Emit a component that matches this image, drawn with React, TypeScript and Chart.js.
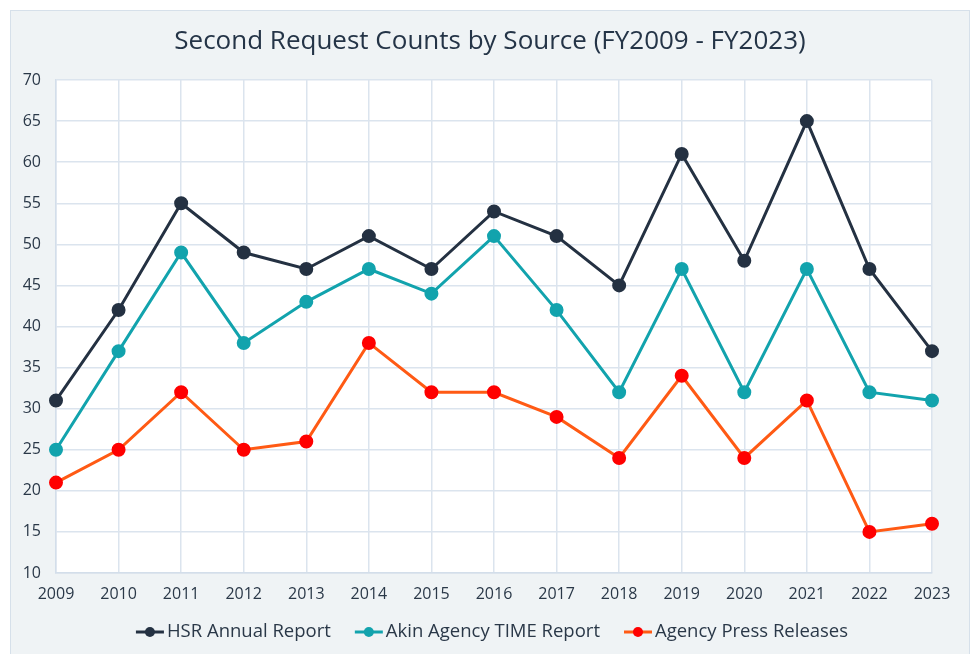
import React, { useEffect, useRef } from "react";
import { Chart, registerables } from "chart.js";

Chart.register(...registerables);

const years = ["2009","2010","2011","2012","2013","2014","2015","2016","2017","2018","2019","2020","2021","2022","2023"];
const hsrAnnual = [31,42,55,49,47,51,47,54,51,45,61,48,65,47,37];
const akinTime = [25,37,49,38,43,47,44,51,42,32,47,32,47,32,31];
const pressReleases = [21,25,32,25,26,38,32,32,29,24,34,24,31,15,16];
const seriesNames = ["HSR Annual Report", "Akin Agency TIME Report", "Agency Press Releases"];
const titleText = "Second Request Counts by Source (FY2009 - FY2023)";

const FONT = "'Open Sans', sans-serif";
const TEXT = "#2a3848";

const bgPlugin = {
  id: "plotBg",
  beforeDraw(chart: any) {
    const { ctx, chartArea } = chart;
    ctx.save();
    ctx.fillStyle = "#ffffff";
    ctx.fillRect(chartArea.left, chartArea.top, chartArea.right - chartArea.left, chartArea.bottom - chartArea.top);
    ctx.restore();
  },
  afterDraw(chart: any) {
    const { ctx } = chart;
    ctx.save();
    // title
    ctx.fillStyle = "#243447";
    ctx.font = `400 26px ${FONT}`;
    ctx.textAlign = "center";
    ctx.textBaseline = "middle";
    ctx.fillText(titleText, 490, 42);
    // legend
    ctx.font = `400 18.5px ${FONT}`;
    const lineLen = 28, gap = 3, spacing = 24;
    const widths = seriesNames.map((n) => ctx.measureText(n).width);
    const total = widths.reduce((a, b) => a + b, 0) + seriesNames.length * (lineLen + gap) + spacing * (seriesNames.length - 1);
    let x = 492 - total / 2;
    const y = 632;
    chart.data.datasets.forEach((ds: any, i: number) => {
      ctx.strokeStyle = ds.borderColor;
      ctx.lineWidth = 3;
      ctx.beginPath();
      ctx.moveTo(x, y);
      ctx.lineTo(x + lineLen, y);
      ctx.stroke();
      ctx.fillStyle = ds.pointBackgroundColor;
      ctx.beginPath();
      ctx.arc(x + lineLen / 2, y, 5, 0, Math.PI * 2);
      ctx.fill();
      ctx.fillStyle = TEXT;
      ctx.textAlign = "left";
      ctx.fillText(seriesNames[i], x + lineLen + gap, y);
      x += lineLen + gap + widths[i] + spacing;
    });
    ctx.restore();
  },
};

export default function App() {
  const ref = useRef<HTMLCanvasElement>(null);
  useEffect(() => {
    const mk = (data: number[], line: string, pt: string, label: string) => ({
      label,
      data,
      borderColor: line,
      backgroundColor: pt,
      pointBackgroundColor: pt,
      pointBorderColor: pt,
      borderWidth: 3,
      pointRadius: 5.5,
      pointHoverRadius: 5.5,
      tension: 0,
    });
    const chart = new Chart(ref.current!, {
      type: "line",
      data: {
        labels: years,
        datasets: [
          mk(hsrAnnual, "#243142", "#243142", seriesNames[0]),
          mk(akinTime, "#12a3ad", "#12a3ad", seriesNames[1]),
          mk(pressReleases, "#ff5a14", "#ff0000", seriesNames[2]),
        ],
      },
      options: {
        animation: false,
        responsive: false,
        maintainAspectRatio: false,
        layout: { padding: { left: 0, right: 40, top: 80, bottom: 0 } },
        plugins: { legend: { display: false }, title: { display: false }, tooltip: { enabled: false } },
        scales: {
          x: {
            offset: false,
            grid: { color: "#dbe4ee", lineWidth: 1.5, drawTicks: false },
            border: { color: "#d3deea", width: 1.5 },
            ticks: { color: TEXT, font: { family: FONT, size: 16 }, padding: 12, maxRotation: 0, autoSkip: false },
            afterFit(scale: any) { scale.height = 81; },
          },
          y: {
            min: 10,
            max: 70,
            ticks: { stepSize: 5, color: TEXT, font: { family: FONT, size: 16 }, padding: 15 },
            grid: { color: "#dbe4ee", lineWidth: 1.5, drawTicks: false },
            border: { color: "#d3deea", width: 1.5 },
            afterFit(scale: any) { scale.width = 56; },
          },
        },
      },
      plugins: [bgPlugin],
    });
    return () => chart.destroy();
  }, []);
  return (
    <div style={{ position: "absolute", left: 0, top: 0, width: 972, height: 654, background: "#ffffff", overflow: "hidden" }}>
      <div style={{ position: "absolute", left: 10, top: 10, width: 960, height: 660, background: "#eff3f5", border: "1px solid #d6e0ea", boxSizing: "border-box" }} />
      <canvas ref={ref} width={972} height={654} style={{ position: "absolute", left: 0, top: 0, width: 972, height: 654 }} />
    </div>
  );
}
